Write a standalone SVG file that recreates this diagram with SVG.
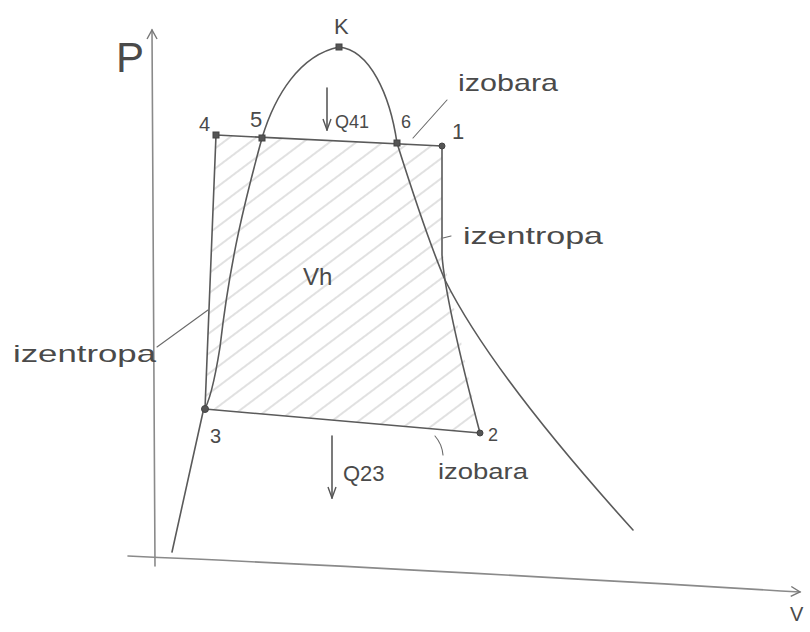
<svg xmlns="http://www.w3.org/2000/svg" width="810" height="632" viewBox="0 0 810 632">
<style>
.ln{fill:none;stroke:#5a5a5a;stroke-width:1.6;stroke-linecap:round;stroke-linejoin:round}
.thin{fill:none;stroke:#6a6a6a;stroke-width:1.1;stroke-linecap:round}
.ax{fill:none;stroke:#8a8a8a;stroke-width:1.6;stroke-linecap:round}
.pt{fill:#555;stroke:#444;stroke-width:1}
.t{font-family:"Liberation Sans","DejaVu Sans",sans-serif;fill:#4a4a4a}
</style>
<defs>
<pattern id="hatch" patternUnits="userSpaceOnUse" width="16" height="16" patternTransform="rotate(-37)">
<line x1="0" y1="8" x2="16" y2="8" stroke="#cdcdcd" stroke-width="1.2"/>
</pattern>
<clipPath id="cyc"><polygon points="216,135 442,146 442,250 480,433 205,409"/></clipPath>
<marker id="openArr" markerWidth="12" markerHeight="12" refX="10" refY="6" orient="auto" markerUnits="userSpaceOnUse">
<path d="M1,1 L10,6 L1,11" fill="none" stroke="#777" stroke-width="1.4"/>
</marker>
<marker id="qArr" markerWidth="10" markerHeight="14" refX="5" refY="13" orient="0" markerUnits="userSpaceOnUse">
<path d="M1,2 L5,13 L9,2" fill="none" stroke="#555" stroke-width="1.4"/>
</marker>
</defs>
<rect width="810" height="632" fill="#ffffff"/>

<!-- hatched area (work Vh) -->
<rect x="190" y="120" width="310" height="330" fill="url(#hatch)" clip-path="url(#cyc)"/>

<g id="connectors">
<!-- axes -->
<path class="ax" d="M155,566 L152,30" marker-end="url(#openArr)"/>
<path class="ax" d="M128,556 Q400,568 800,592" marker-end="url(#openArr)"/>
<!-- saturation dome -->
<path id="dome-top" class="ln" d="M262,138 C275,95 300,55 339,47 C370,50 390,95 397,143"/>
<path id="liquid-line" class="ln" d="M262,138 C245,200 230,260 220,347 C214,385 208,405 203,412 L172,552"/>
<path id="vapor-line" class="ln" d="M397,143 C415,200 430,245 445,280 C470,330 520,405 633,530"/>
<!-- cycle -->
<path id="isobar-41" class="ln" d="M216,135 L442,146"/>
<path id="isentrope-12" class="ln" d="M442,146 L442,255 Q445,300 480,433"/>
<path id="isobar-23" class="ln" d="M480,433 L205,409"/>
<path id="isentrope-34" class="ln" d="M205,409 L216,135"/>
<!-- leaders -->
<path class="thin" d="M413,138 L447,100"/>
<path class="thin" d="M443,238 L451,236"/>
<path class="thin" d="M157,347 L208,310"/>
<path class="thin" d="M435,436 Q442,444 443,455"/>
<!-- heat arrows -->
<path class="ln" d="M327,88 L327,130" marker-end="url(#qArr)"/>
<path class="ln" d="M332,436 L332,498" marker-end="url(#qArr)"/>
</g>

<g id="node-K"><rect class="pt" x="336" y="44" width="6" height="6"/><text class="t" x="334" y="34" font-size="22">K</text></g>
<g id="node-1"><circle class="pt" cx="442" cy="146" r="3"/><text class="t" x="452" y="139" font-size="22">1</text></g>
<g id="node-2"><circle class="pt" cx="480" cy="433" r="3"/><text class="t" x="488" y="441" font-size="18">2</text></g>
<g id="node-3"><circle class="pt" cx="205" cy="409" r="3.5" fill="none"/><text class="t" x="210" y="443" font-size="20">3</text></g>
<g id="node-4"><rect class="pt" x="213" y="132" width="6" height="6"/><text class="t" x="199" y="131" font-size="20">4</text></g>
<g id="node-5"><rect class="pt" x="259" y="135" width="6" height="6"/><text class="t" x="250" y="127" font-size="22">5</text></g>
<g id="node-6"><rect class="pt" x="394" y="140" width="6" height="6"/><text class="t" x="401" y="128" font-size="18">6</text></g>

<g id="labels">
<text class="t" x="116" y="72" font-size="42" font-weight="300">P</text>
<text class="t" x="790" y="621" font-size="20">V</text>
<text class="t" x="335" y="128" font-size="18">Q41</text>
<text class="t" x="343" y="481" font-size="22">Q23</text>
<text class="t" x="303" y="285" font-size="24">Vh</text>
<text class="t" x="458" y="91" font-size="24" textLength="100" lengthAdjust="spacingAndGlyphs">izobara</text>
<text class="t" x="463" y="244" font-size="24" textLength="140" lengthAdjust="spacingAndGlyphs">izentropa</text>
<text class="t" x="13" y="362" font-size="24" textLength="143" lengthAdjust="spacingAndGlyphs">izentropa</text>
<text class="t" x="438" y="479" font-size="22" textLength="90" lengthAdjust="spacingAndGlyphs">izobara</text>
</g>
</svg>
